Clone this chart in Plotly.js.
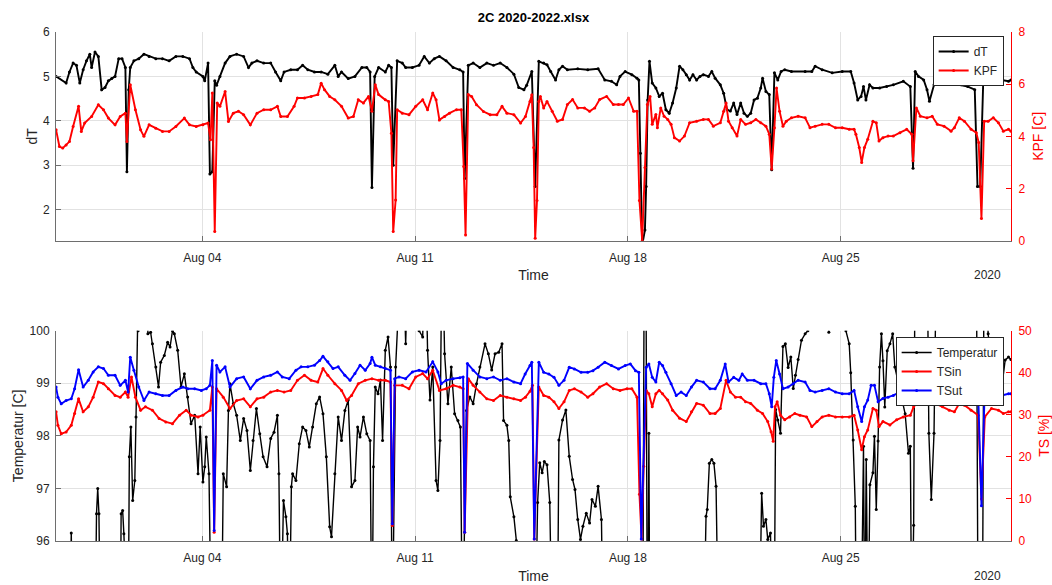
<!DOCTYPE html>
<html>
<head>
<meta charset="utf-8">
<script src="https://cdn.plot.ly/plotly-3.0.1.min.js"></script>
<style>html,body{margin:0;padding:0;background:#fff;}#chart{width:1052px;height:585px;}</style>
</head>
<body>
<div id="chart"></div>
<script>
// Time stamps are given in days after 2020-07-30 00:00.
// Values of 94 / 102 on Temperatur mark readings that fall outside the shown 96-100 range.

const dT_t = [0.19,0.52,0.63,0.75,0.86,0.97,1.08,1.19,1.30,1.36,1.47,1.58,1.69,1.80,1.91,2.02,2.13,2.25,2.36,2.47,2.52,2.58,2.63,2.75,2.91,3.08,3.25,3.47,3.69,3.91,4.13,4.36,4.58,4.69,4.80,5.02,5.08,5.19,5.25,5.33,5.41,5.47,5.58,5.75,5.91,6.13,6.36,6.52,6.63,6.80,7.02,7.25,7.41,7.58,7.69,7.91,8.13,8.30,8.47,8.69,8.91,9.13,9.36,9.47,9.58,9.80,10.02,10.25,10.41,10.52,10.58,10.67,10.80,11.02,11.13,11.22,11.28,11.41,11.58,11.69,11.91,12.13,12.30,12.47,12.63,12.80,13.02,13.25,13.47,13.58,13.63,13.75,13.91,14.13,14.36,14.58,14.80,15.02,15.25,15.41,15.58,15.67,15.84,15.95,16.07,16.23,16.34,16.46,16.62,16.73,16.85,17.01,17.35,17.68,18.02,18.24,18.46,18.63,18.74,18.91,19.13,19.30,19.36,19.41,19.47,19.56,19.60,19.65,19.71,19.80,19.92,20.03,20.14,20.25,20.36,20.47,20.59,20.70,20.81,20.92,21.03,21.14,21.26,21.37,21.48,21.65,21.76,21.87,22.04,22.15,22.26,22.37,22.48,22.59,22.71,22.82,22.93,23.04,23.15,23.26,23.37,23.43,23.54,23.65,23.73,23.82,23.93,24.04,24.16,24.38,24.83,25.05,25.16,25.39,25.72,26.05,26.33,26.44,26.56,26.67,26.75,26.83,26.95,27.06,27.28,27.51,27.73,28.06,28.29,28.38,28.45,28.56,28.73,28.84,28.92,29.07,29.29,29.63,29.96,30.18,30.41,30.50,30.59,30.69,30.85,31.08,31.30,31.52,31.60];
const dT_v = [5.0,4.85,5.1,5.3,5.25,4.85,5.15,5.35,5.5,5.2,5.55,5.45,4.7,4.75,4.9,4.95,5.0,5.4,5.4,5.2,2.85,4.7,5.2,5.35,5.4,5.5,5.45,5.4,5.4,5.35,5.45,5.45,5.4,5.2,5.1,5.0,4.9,5.3,2.8,2.85,4.9,4.8,5.0,5.3,5.45,5.5,5.45,5.2,5.3,5.35,5.3,5.3,5.1,4.9,5.1,5.15,5.15,5.25,5.15,5.1,5.1,5.05,5.25,5.0,5.1,4.95,5.0,5.2,5.2,5.1,2.5,5.0,5.2,5.1,5.25,5.2,3.0,5.35,5.3,5.2,5.2,5.25,5.45,5.3,5.4,5.45,5.35,5.2,5.15,5.1,2.7,5.25,5.3,5.2,5.3,5.25,5.3,5.2,5.05,4.75,4.7,4.8,5.11,2.52,5.34,5.3,5.26,5.11,4.92,5.15,5.23,5.15,5.17,5.15,5.17,4.92,4.89,4.81,5.0,5.11,5.04,4.96,4.92,3.27,1.2,1.54,2.52,4.47,5.34,4.85,4.74,4.55,4.62,4.25,4.17,4.4,4.74,5.23,5.15,5.04,4.92,5.04,4.92,5.0,5.04,5.0,5.11,4.96,4.81,4.62,4.25,4.22,4.4,4.14,4.4,4.17,4.1,4.17,4.47,4.51,4.74,4.96,4.66,4.59,2.9,5.08,4.92,5.11,5.15,5.11,5.11,5.11,5.23,5.15,5.08,5.11,5.11,4.85,4.47,4.55,4.77,4.47,4.81,4.74,4.74,4.77,4.81,4.89,4.77,2.93,5.11,5.0,4.92,4.7,4.44,4.81,4.89,4.85,4.81,4.77,4.7,2.52,2.52,4.92,4.92,4.89,4.92,4.89,4.92];

const kpf_t = [0.19,0.30,0.41,0.52,0.63,0.75,0.93,1.02,1.13,1.36,1.58,1.75,1.91,2.13,2.30,2.47,2.52,2.63,2.80,2.97,3.08,3.25,3.47,3.69,3.91,4.13,4.41,4.58,4.80,5.02,5.19,5.27,5.33,5.41,5.49,5.58,5.75,5.86,6.02,6.19,6.36,6.58,6.80,7.02,7.25,7.47,7.58,7.80,8.02,8.13,8.36,8.58,8.80,8.91,9.02,9.19,9.36,9.58,9.80,9.97,10.13,10.30,10.47,10.58,10.69,10.80,11.02,11.13,11.22,11.28,11.36,11.41,11.58,11.80,12.02,12.25,12.41,12.58,12.69,12.80,12.97,13.13,13.36,13.52,13.60,13.66,13.75,13.86,14.02,14.25,14.47,14.69,14.86,15.02,15.25,15.47,15.63,15.78,15.84,15.90,15.95,16.01,16.07,16.12,16.23,16.34,16.51,16.68,16.85,17.01,17.18,17.35,17.57,17.74,17.91,18.07,18.30,18.52,18.69,18.85,19.02,19.19,19.30,19.38,19.47,19.56,19.64,19.73,19.80,19.92,19.97,20.08,20.19,20.31,20.42,20.53,20.70,20.86,21.03,21.26,21.48,21.65,21.81,22.04,22.15,22.23,22.31,22.43,22.59,22.71,22.87,23.04,23.21,23.37,23.54,23.65,23.73,23.82,23.89,23.99,24.10,24.21,24.38,24.60,24.83,24.99,25.16,25.39,25.61,25.83,26.05,26.28,26.44,26.50,26.61,26.69,26.78,26.89,27.06,27.17,27.26,27.39,27.56,27.73,27.95,28.17,28.34,28.38,28.49,28.62,28.84,29.01,29.18,29.40,29.63,29.74,29.90,30.07,30.29,30.46,30.54,30.63,30.72,30.85,31.02,31.19,31.35,31.52,31.60];
const kpf_v = [4.25,3.61,3.55,3.67,3.8,4.38,5.15,4.19,4.51,4.76,5.21,5.02,4.7,4.44,4.76,4.89,3.8,5.98,5.02,4.25,4.0,4.44,4.31,4.19,4.19,4.38,4.7,4.44,4.38,4.44,4.51,3.87,5.66,0.35,5.28,5.15,5.72,4.57,4.89,4.96,4.83,4.44,4.89,5.02,5.02,5.15,4.76,4.76,5.15,5.47,5.47,5.53,5.6,6.04,5.79,5.53,5.4,5.15,4.7,4.76,5.4,5.28,5.53,4.96,5.98,5.6,5.4,5.34,4.12,0.35,1.56,5.02,4.89,4.83,5.15,5.4,5.02,5.66,5.4,4.63,4.76,4.89,5.02,5.02,2.84,0.22,5.6,5.53,5.21,4.95,4.83,4.83,5.15,4.89,4.83,4.51,4.76,5.34,5.59,3.57,0.09,1.54,5.34,5.53,5.09,5.34,4.96,4.58,4.65,5.22,5.41,5.09,5.09,4.96,5.09,5.41,5.53,5.22,5.22,5.22,5.47,4.96,4.96,1.54,0.0,2.81,5.22,5.53,4.46,4.84,4.33,5.09,4.77,4.65,4.46,3.95,3.82,4.01,4.52,4.58,4.65,4.65,4.39,4.52,4.96,5.28,4.58,4.33,4.01,4.65,4.46,4.52,4.65,4.52,4.39,4.08,2.75,4.33,5.85,4.96,4.39,4.58,4.71,4.77,4.71,4.33,4.39,4.46,4.46,4.33,4.33,4.27,4.27,4.08,3.57,3.0,3.57,3.89,4.58,4.52,3.82,3.95,4.01,4.01,4.14,4.27,4.08,3.06,5.09,4.77,4.71,4.77,4.46,4.39,4.2,4.33,4.71,4.58,4.27,4.14,3.76,0.85,4.58,4.58,4.71,4.52,4.2,4.27,4.2];

const temp_t = [0.19,0.63,0.69,0.74,1.47,1.52,1.56,1.60,1.65,2.30,2.33,2.38,2.42,2.47,2.56,2.60,2.65,2.71,2.78,2.82,2.89,2.93,3.19,3.21,3.30,3.36,3.47,3.56,3.63,3.75,3.86,3.94,4.02,4.08,4.19,4.30,4.41,4.52,4.63,4.75,4.86,4.93,5.02,5.08,5.13,5.22,5.30,5.63,5.69,5.80,5.86,5.91,6.02,6.13,6.25,6.36,6.47,6.58,6.67,6.78,6.89,7.00,7.13,7.25,7.36,7.47,7.52,7.58,7.67,7.75,7.80,7.86,7.93,7.97,8.08,8.19,8.30,8.41,8.52,8.63,8.75,8.86,8.97,9.08,9.19,9.25,9.36,9.47,9.58,9.69,9.80,9.91,10.02,10.11,10.19,10.30,10.41,10.52,10.58,10.63,10.69,10.78,10.86,10.93,11.02,11.11,11.19,11.25,11.36,11.45,11.58,11.69,11.80,12.08,12.13,12.25,12.33,12.41,12.49,12.58,12.69,12.75,12.82,12.89,12.97,13.08,13.19,13.30,13.41,13.49,13.56,13.69,13.80,13.91,14.02,14.13,14.30,14.41,14.52,14.63,14.75,14.86,14.91,15.02,15.08,15.13,15.25,15.33,15.41,15.95,16.03,16.10,16.18,16.25,16.34,16.43,16.51,16.68,16.73,16.85,16.96,17.07,17.18,17.26,17.35,17.44,17.52,17.63,17.74,17.82,17.93,18.02,18.13,18.19,19.49,19.54,19.59,19.64,19.66,19.69,19.72,21.49,21.57,21.61,21.68,21.76,21.83,21.90,21.98,23.32,23.40,23.46,23.54,23.60,23.69,23.77,23.81,23.86,23.93,24.02,24.10,24.18,24.27,24.36,24.44,24.51,24.60,24.71,24.83,24.92,24.99,25.30,25.39,25.61,25.72,26.10,26.17,26.28,26.33,26.41,26.48,26.52,26.67,26.75,26.79,26.84,26.90,26.96,27.06,27.11,27.17,27.23,27.28,27.34,27.39,27.45,27.53,27.62,27.71,27.78,27.90,28.01,28.12,28.23,28.29,28.34,28.40,28.45,28.84,28.90,28.98,29.07,29.16,30.46,30.52,30.66,30.72,30.85,31.02,31.19,31.30,31.41,31.52,31.60];
const temp_v = [94,94,96.15,94,94,96.52,97.0,96.52,94,94,96.52,96.58,96.14,94,94,97.6,98.17,96.77,97.15,98.36,100.0,102,102,99.94,99.97,99.75,99.31,98.93,99.4,99.53,99.78,99.69,100.0,99.94,99.63,98.93,99.18,98.74,98.23,98.39,97.28,98.17,97.12,97.41,97.98,97.28,94,94,97.28,97.03,98.48,98.99,98.61,98.39,97.91,98.33,98.1,97.34,97.91,98.52,98.04,97.6,97.41,97.95,98.07,98.39,97.28,94,96.77,96.46,96.14,94,97.03,97.28,97.15,97.85,98.17,98.1,97.79,98.17,98.61,98.74,98.42,97.6,96.27,96.08,97.28,98.36,97.91,98.48,98.68,97.03,97.15,98.17,97.98,98.36,98.04,97.91,94,97.41,98.93,98.8,99.06,97.91,99.63,99.88,99.31,94,99.31,102,102,99.75,102,102,100.0,99.88,102,99.63,98.68,99.31,97.15,96.96,97.91,102,99.56,98.61,99.31,98.42,98.29,98.17,94,98.48,98.74,98.61,98.99,99.31,99.75,99.56,99.25,99.56,99.59,99.75,98.29,98.2,97.91,96.84,96.46,96.01,94,94,96.73,97.49,97.3,97.51,97.45,96.73,94,94,97.92,98.3,98.49,97.61,97.17,96.98,96.41,96.03,96.28,96.53,96.34,96.79,96.66,97.04,96.41,94,94,102,102,94,94,98.05,94,94,96.47,96.6,97.48,97.55,97.48,97.04,94,94,96.91,96.28,96.41,96.03,96.15,94,94,98.5,98.3,98.05,99.7,99.75,99.3,99.5,98.9,99.15,99.45,99.82,99.94,100.0,102,100.05,102,99.97,102,102,100.0,99.75,99.2,97.92,96.66,94,94,97.8,94,97.55,94,97.07,97.3,97.99,96.6,97.9,99.31,99.94,99.43,98.55,99.62,99.75,99.94,99.31,98.99,98.74,98.42,97.67,97.8,94,96.3,102,102,98.05,96.79,98.05,102,102,94,94,102,99.94,99.06,98.74,98.93,99.44,99.5,99.45];

const tsin_t = [0.19,0.25,0.36,0.52,0.69,0.80,0.93,1.08,1.25,1.41,1.58,1.75,1.91,2.13,2.30,2.47,2.56,2.67,2.80,2.97,3.13,3.36,3.58,3.80,4.02,4.25,4.47,4.63,4.86,5.02,5.25,5.33,5.39,5.47,5.69,5.91,6.13,6.36,6.58,6.80,7.02,7.25,7.47,7.69,7.91,8.13,8.36,8.58,8.80,8.97,9.13,9.36,9.58,9.75,9.91,10.13,10.36,10.58,10.80,11.02,11.19,11.25,11.33,11.58,11.80,12.02,12.25,12.41,12.58,12.80,13.02,13.25,13.47,13.58,13.63,13.75,13.91,14.13,14.36,14.58,14.80,15.02,15.25,15.47,15.63,15.78,15.86,15.92,16.07,16.23,16.40,16.57,16.73,16.90,17.07,17.24,17.46,17.68,17.85,18.07,18.30,18.52,18.74,18.97,19.13,19.30,19.38,19.45,19.52,19.60,19.69,19.80,19.92,20.03,20.14,20.31,20.47,20.70,20.92,21.09,21.26,21.48,21.70,21.87,22.04,22.23,22.37,22.54,22.71,22.87,23.04,23.26,23.43,23.60,23.71,23.78,23.84,23.91,24.02,24.16,24.32,24.49,24.66,24.88,25.05,25.22,25.39,25.61,25.83,26.05,26.28,26.44,26.56,26.69,26.78,26.89,27.06,27.17,27.26,27.39,27.62,27.84,28.06,28.29,28.40,28.56,28.79,28.98,29.12,29.35,29.57,29.74,29.90,30.07,30.29,30.52,30.63,30.74,30.96,31.19,31.35,31.52,31.60];
const tsin_v = [30.7,27.5,25.5,25.9,27.5,30.3,33.8,30.7,31.9,34.2,37.8,37.4,36.2,34.6,34.2,35.4,34.2,39.0,34.2,31.1,31.9,31.1,29.1,28.3,27.9,29.9,31.1,29.9,29.5,29.9,31.1,36.6,2.1,36.2,34.2,31.5,33.4,33.8,31.9,33.8,34.2,35.4,35.8,35.4,35.8,38.2,39.4,38.2,37.8,41.0,39.4,37.4,35.8,33.4,34.6,37.4,38.2,38.6,38.2,38.2,37.8,3.7,37.0,37.0,36.2,39.0,39.8,38.6,40.6,35.8,36.2,37.0,36.6,36.2,2.1,38.6,37.0,35.4,33.8,33.4,34.6,34.2,33.8,33.4,34.2,35.6,37.0,0.5,36.6,34.6,34.2,33.1,31.5,33.1,35.8,36.2,35.4,34.2,35.0,36.6,37.4,36.2,35.8,36.2,36.2,34.2,11.1,0.5,17.8,35.8,35.0,31.9,35.0,35.8,35.0,33.5,31.1,29.2,28.4,30.7,32.7,32.3,30.3,30.3,31.5,38.2,35.4,34.2,34.2,33.1,32.7,31.1,30.3,28.4,26.0,23.7,31.9,33.1,29.9,28.8,29.5,30.3,29.9,29.5,27.2,28.4,29.5,29.9,29.5,29.5,29.5,29.9,26.4,21.7,24.8,26.4,31.5,31.1,27.2,28.4,27.6,28.8,29.5,29.9,31.9,33.5,33.1,35.4,32.7,31.9,31.1,30.7,32.7,32.3,31.1,29.9,10.0,29.5,31.5,31.1,30.3,30.7,30.7];

const tsut_t = [0.19,0.25,0.36,0.52,0.69,0.80,0.93,1.08,1.25,1.41,1.58,1.75,1.91,2.13,2.30,2.47,2.56,2.63,2.75,2.91,3.08,3.25,3.47,3.69,3.91,4.13,4.36,4.52,4.75,4.97,5.13,5.25,5.33,5.39,5.47,5.58,5.75,5.91,6.13,6.36,6.58,6.80,7.02,7.25,7.47,7.63,7.86,8.08,8.25,8.47,8.69,8.86,8.97,9.13,9.30,9.47,9.69,9.86,10.02,10.19,10.36,10.52,10.58,10.69,10.86,11.02,11.19,11.25,11.33,11.47,11.69,11.91,12.13,12.36,12.58,12.75,12.86,13.02,13.25,13.47,13.58,13.63,13.72,13.91,14.13,14.36,14.58,14.80,15.02,15.25,15.47,15.62,15.78,15.84,15.92,16.07,16.23,16.40,16.57,16.73,16.90,17.07,17.24,17.46,17.68,17.85,18.02,18.24,18.46,18.69,18.91,19.08,19.25,19.36,19.44,19.60,19.69,19.80,19.92,20.03,20.14,20.25,20.42,20.59,20.75,20.92,21.09,21.26,21.48,21.70,21.87,22.04,22.20,22.31,22.48,22.65,22.76,22.93,23.15,23.37,23.54,23.65,23.73,23.80,23.88,23.99,24.10,24.27,24.44,24.60,24.83,24.99,25.16,25.39,25.61,25.83,26.05,26.28,26.44,26.56,26.69,26.78,26.89,27.00,27.11,27.23,27.39,27.56,27.73,27.95,28.17,28.40,28.84,29.40,29.96,30.52,30.63,30.74,31.08,31.30,31.52,31.60];
const tsut_v = [36.6,34.2,32.6,33.4,33.8,36.2,40.7,36.6,38.2,40.2,41.4,41.0,39.4,39.4,37.0,38.2,35.4,43.7,40.6,36.6,33.4,35.4,35.0,34.6,34.6,35.8,36.6,36.2,36.2,35.8,36.2,37.0,42.9,2.5,41.8,40.2,41.4,36.6,38.6,39.0,36.2,38.2,39.0,39.4,40.2,39.0,38.6,40.6,41.4,41.4,41.8,42.9,43.9,42.6,41.0,41.4,39.4,38.2,39.8,41.8,40.6,42.2,43.7,41.8,41.4,41.0,40.6,4.1,38.6,39.0,38.6,40.2,40.6,40.2,42.6,40.2,37.4,38.2,38.6,38.8,39.0,2.1,42.2,40.6,39.0,38.6,39.0,38.2,38.6,37.8,37.4,39.7,41.7,42.5,0.5,42.5,40.1,39.7,38.9,37.0,38.2,41.3,40.9,40.1,40.1,40.5,41.3,42.5,41.7,40.9,41.7,42.1,40.5,40.1,0.5,41.3,42.1,38.9,37.8,42.5,41.7,40.1,37.4,34.6,35.4,34.6,36.6,38.2,37.8,36.2,36.2,38.2,42.1,37.8,38.9,38.2,39.7,38.2,38.2,37.4,37.4,35.0,31.9,38.9,42.9,39.7,36.2,36.6,37.4,38.2,37.8,35.8,35.4,35.8,36.2,35.4,35.0,35.0,35.8,31.9,28.4,31.9,33.5,37.0,37.0,33.1,33.9,34.2,34.6,35.4,35.8,35.4,36.6,36.2,36.2,35.8,8.4,36.6,35.4,34.6,35.0,35.0];

const xTickVals = ['2020-08-04', '2020-08-11', '2020-08-18', '2020-08-25'];
const xTickText = ['Aug 04', 'Aug 11', 'Aug 18', 'Aug 25'];
const xRange = ['2020-07-30 04:30', '2020-08-30 14:27'];

const T0 = Date.UTC(2020, 6, 30);
function toTime(days) {
  return days.map(d => new Date(T0 + d * 86400000).toISOString().slice(0, 19).replace('T', ' '));
}

const FONT = 'Liberation Sans, Arial, Helvetica, sans-serif';
const TXT = '#262626';
const RED = '#ff0000';
const BLUE = '#0000ff';
const GRID = '#e2e2e2';
const AXL = '#6e6e6e';

function series(name, t, v, color, xa, ya, leg, w) {
  return {
    type: 'scatter', mode: 'lines+markers', name: name,
    x: toTime(t), y: v, xaxis: xa, yaxis: ya, legend: leg,
    line: {color: color, width: w}, marker: {color: color, size: 3},
    hoverinfo: 'x+y+name'
  };
}

const traces = [
  series('dT', dT_t, dT_v, '#000000', 'x', 'y', 'legend', 1.9),
  series('KPF', kpf_t, kpf_v, RED, 'x', 'y2', 'legend', 1.9),
  series('Temperatur', temp_t, temp_v, '#000000', 'x2', 'y3', 'legend2', 1.4),
  series('TSin', tsin_t, tsin_v, RED, 'x2', 'y4', 'legend2', 1.9),
  series('TSut', tsut_t, tsut_v, BLUE, 'x2', 'y4', 'legend2', 1.9)
];

function xAxis(anchor) {
  return {
    type: 'date', range: xRange, anchor: anchor, domain: [0, 1],
    tickmode: 'array', tickvals: xTickVals, ticktext: xTickText,
    ticks: 'inside', ticklen: 5, tickcolor: AXL,
    showgrid: true, gridcolor: GRID, gridwidth: 1,
    showline: true, linecolor: AXL, linewidth: 1, zeroline: false,
    tickfont: {family: FONT, size: 12, color: TXT},
    ticklabelstandoff: 6,
    title: {text: 'Time', font: {family: FONT, size: 14, color: TXT}, standoff: 6}
  };
}
function yLeft(domain, anchor, range, tv, title, standoff) {
  return {
    domain: domain, anchor: anchor, range: range,
    tickmode: 'array', tickvals: tv,
    ticks: 'inside', ticklen: 5, tickcolor: AXL,
    showgrid: true, gridcolor: GRID, gridwidth: 1,
    showline: true, linecolor: AXL, linewidth: 1, zeroline: false,
    tickfont: {family: FONT, size: 12, color: TXT},
    ticklabelstandoff: 3,
    title: {text: title, font: {family: FONT, size: 14, color: TXT}, standoff: standoff}
  };
}
function yRight(overlay, anchor, range, tv, title) {
  return {
    overlaying: overlay, side: 'right', anchor: anchor, range: range,
    tickmode: 'array', tickvals: tv,
    ticks: 'inside', ticklen: 5, tickcolor: RED,
    showgrid: false, zeroline: false,
    showline: true, linecolor: RED, linewidth: 1,
    tickfont: {family: FONT, size: 12, color: RED},
    ticklabelstandoff: 4,
    title: {text: title, font: {family: FONT, size: 14, color: RED}, standoff: 8}
  };
}

const legendBase = {xanchor: 'right', yanchor: 'top', bgcolor: '#ffffff',
  bordercolor: '#262626', borderwidth: 1, font: {family: FONT, size: 12, color: TXT},
  itemwidth: 30, tracegroupgap: 0};

const layout = {
  width: 1052, height: 585,
  margin: {l: 56, r: 41, t: 32, b: 44},
  paper_bgcolor: '#ffffff', plot_bgcolor: '#ffffff',
  font: {family: FONT, size: 12, color: TXT},
  title: {text: '<b>2C 2020-2022.xlsx</b>', font: {family: FONT, size: 13, color: '#000000'},
          x: 0.5, xref: 'paper', y: 1 - 17 / 585, yref: 'container', yanchor: 'middle'},
  xaxis: xAxis('y'),
  xaxis2: xAxis('y3'),
  yaxis: yLeft([0.590, 1], 'x', [1.3, 6], [2, 3, 4, 5, 6], 'dT', 2),
  yaxis2: yRight('y', 'x', [0, 8], [0, 2, 4, 6, 8], 'KPF [C]'),
  yaxis3: yLeft([0, 0.4132], 'x2', [96, 100], [96, 97, 98, 99, 100], 'Temperatur [C]', 2),
  yaxis4: yRight('y3', 'x2', [0, 50], [0, 10, 20, 30, 40, 50], 'TS [%]'),
  showlegend: true,
  legend: Object.assign({x: 0.9923, y: 0.992}, legendBase),
  legend2: Object.assign({x: 0.9923, y: 0.4008}, legendBase),
  annotations: [
    {text: '2020', xref: 'paper', yref: 'paper', x: 0.975, y: 0.5226, showarrow: false,
     xanchor: 'center', yanchor: 'middle', font: {family: FONT, size: 12, color: TXT}},
    {text: '2020', xref: 'paper', yref: 'paper', x: 0.975, y: -0.0688, showarrow: false,
     xanchor: 'center', yanchor: 'middle', font: {family: FONT, size: 12, color: TXT}}
  ]
};

Plotly.newPlot('chart', traces, layout, {displayModeBar: false, staticPlot: true});
</script>
</body>
</html>
